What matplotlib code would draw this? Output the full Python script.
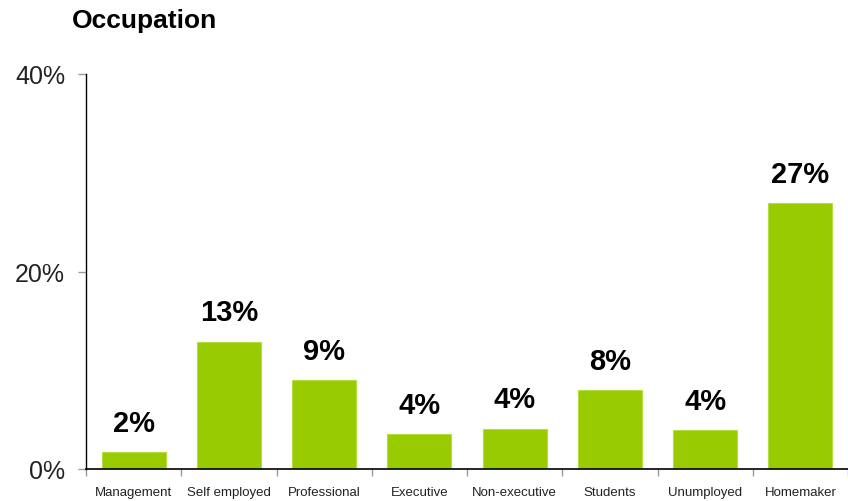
import matplotlib.pyplot as plt
from matplotlib.ticker import FixedLocator

categorias = ['Management', 'Self employed', 'Professional', 'Executive',
              'Non-executive', 'Students', 'Unumployed', 'Homemaker']
valores = [1.7, 12.9, 9.0, 3.5, 4.1, 8.0, 3.9, 26.9]
rotulos = ['2%', '13%', '9%', '4%', '4%', '8%', '4%', '27%']
yticks = [0, 20, 40]

cor_barra = '#99CC00'
fonte = ['Liberation Sans', 'DejaVu Sans']

fig = plt.figure(figsize=(8.48, 5.02), dpi=100)
ax = fig.add_axes([86 / 848, 1 - 470 / 502, 1 - 86 / 848, (470 - 75) / 502])

x = range(len(categorias))
barras = ax.bar(x, valores, width=0.67, color=cor_barra, edgecolor='#B5DD40', linewidth=0.8)

for b, r in zip(barras, rotulos):
    ax.annotate(r, (b.get_x() + b.get_width() / 2, b.get_height()),
                xytext=(0, 11), textcoords='offset points', ha='center', va='bottom',
                fontsize=21, fontweight='bold', family=fonte, color='black')

ax.set_xlim(-0.5, len(categorias) - 0.5)
ax.set_ylim(0, 40)

ax.set_yticks(yticks)
ax.set_yticklabels([f'{v}%' for v in yticks], fontsize=18, family=fonte, color='#222222')
ax.tick_params(axis='y', direction='out', length=6, width=1, color='#999999', pad=9)

ax.set_xticks(list(x))
ax.set_xticklabels(categorias, fontsize=9.5, family=fonte, color='#222222')
ax.tick_params(axis='x', which='major', length=0, pad=12)
ax.xaxis.set_minor_locator(FixedLocator([i - 0.5 for i in range(len(categorias) + 1)]))
ax.tick_params(axis='x', which='minor', direction='out', length=5, width=1, color='#999999')

for lado in ['top', 'right']:
    ax.spines[lado].set_visible(False)
ax.spines['left'].set_color('black')
ax.spines['bottom'].set_color('black')
ax.spines['left'].set_linewidth(1)
ax.spines['bottom'].set_linewidth(1.2)

fig.text(72 / 848, 1 - 21 / 502, 'Occupation', fontsize=19, fontweight='bold',
         family=fonte, ha='left', va='center')

fig.savefig('out.png', dpi=100)
